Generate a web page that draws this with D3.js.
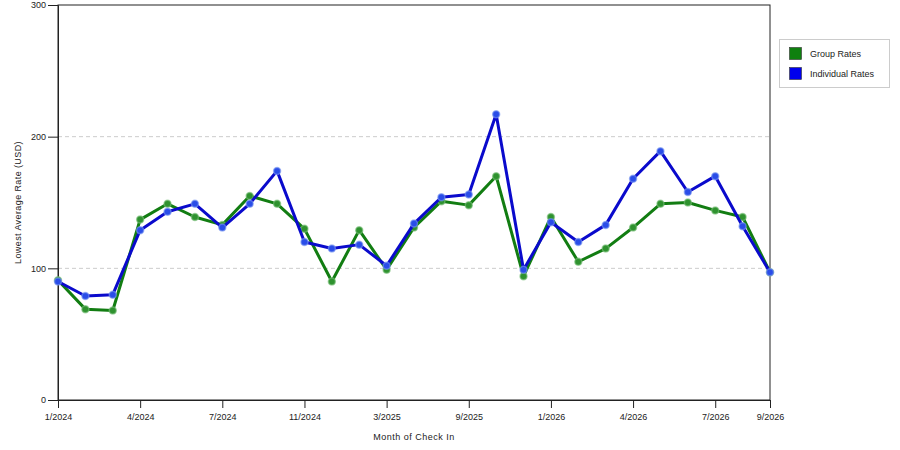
<html>
<head>
<script src="https://d3js.org/d3.v7.min.js"></script>
<style>
  body { margin: 0; background: #fff; }
  text { font-family: "Liberation Sans", Arial, sans-serif; fill: #222; }
</style>
</head>
<body>
<svg id="chart" width="900" height="450"></svg>
<script>
// months shown on the x axis (categorical, not evenly spaced in time)
const months = ["1/2024","2/2024","3/2024","4/2024","5/2024","6/2024","7/2024","8/2024","10/2024",
  "11/2024","12/2024","2/2025","3/2025","5/2025","7/2025","9/2025","10/2025","11/2025",
  "1/2026","2/2026","3/2026","4/2026","5/2026","6/2026","7/2026","8/2026","9/2026"];
const tickLabels = ["1/2024","4/2024","7/2024","11/2024","3/2025","9/2025","1/2026","4/2026","7/2026","9/2026"];
const yTicks = [0, 100, 200, 300];

const groupRates = [91, 69, 68, 137, 149, 139, 133, 155, 149, 130, 90, 129, 99, 131, 151, 148,
  170, 94, 139, 105, 115, 131, 149, 150, 144, 139, 97];
const individualRates = [90, 79, 80, 129, 143, 149, 131, 149, 174, 120, 115, 118, 102, 134, 154, 156,
  217, 99, 135, 120, 133, 168, 189, 158, 170, 132, 97];

const seriesNames = ["Group Rates", "Individual Rates"];

const svg = d3.select("#chart");
const plotL = 58, plotR = 770, plotT = 5, plotB = 400;

const x = d3.scalePoint().domain(months).range([plotL, plotR]);
const y = d3.scaleLinear().domain([0, 300]).range([plotB, plotT]);

// frame
svg.append("rect")
  .attr("x", plotL).attr("y", plotT)
  .attr("width", plotR - plotL).attr("height", plotB - plotT)
  .attr("fill", "none").attr("stroke", "#222").attr("stroke-width", 1);

// dashed gridlines
svg.append("g")
  .selectAll("line")
  .data([100, 200])
  .enter().append("line")
  .attr("x1", plotL).attr("x2", plotR)
  .attr("y1", d => y(d)).attr("y2", d => y(d))
  .attr("stroke", "#ccc").attr("stroke-dasharray", "4,3");

// y axis
const yAxis = svg.append("g")
  .attr("transform", "translate(" + plotL + ",0)")
  .call(d3.axisLeft(y).tickValues(yTicks).tickSize(10).tickPadding(2));
yAxis.select(".domain").attr("stroke", "#222");
yAxis.selectAll(".tick line").attr("stroke", "#222");
yAxis.selectAll("text").attr("font-size", 9).attr("font-family", "Liberation Sans, Arial, sans-serif").attr("fill", "#222");

// x axis
const xAxis = svg.append("g")
  .attr("transform", "translate(0," + plotB + ")")
  .call(d3.axisBottom(x).tickValues(tickLabels).tickSize(8).tickPadding(6));
xAxis.select(".domain").attr("stroke", "#222");
xAxis.selectAll(".tick line").attr("stroke", "#222");
xAxis.selectAll("text").attr("font-size", 9).attr("font-family", "Liberation Sans, Arial, sans-serif").attr("fill", "#222");

// axis titles
svg.append("text")
  .attr("x", (plotL + plotR) / 2).attr("y", 440)
  .attr("text-anchor", "middle").attr("font-size", 9)
  .attr("letter-spacing", 0.5)
  .text("Month of Check In");

svg.append("text")
  .attr("transform", "translate(21," + ((plotT + plotB) / 2) + ") rotate(-90)")
  .attr("text-anchor", "middle").attr("font-size", 9)
  .attr("letter-spacing", 0.4)
  .text("Lowest Average Rate (USD)");

// series
const color = d3.scaleOrdinal().domain(seriesNames).range(["#127d12", "#0a0acc"]);
const marker = d3.scaleOrdinal().domain(seriesNames).range(["#2f922f", "#2a4de8"]);
const halo = d3.scaleOrdinal().domain(seriesNames).range(["rgba(120,190,120,0.6)", "rgba(120,150,240,0.6)"]);

const series = [
  { name: seriesNames[0], values: groupRates },
  { name: seriesNames[1], values: individualRates }
];

const line = d3.line()
  .x((d, i) => x(months[i]))
  .y(d => y(d));

series.forEach(function(s) {
  svg.append("path")
    .datum(s.values)
    .attr("fill", "none")
    .attr("stroke", color(s.name))
    .attr("stroke-width", 3)
    .attr("stroke-linejoin", "round")
    .attr("d", line);

  svg.append("g")
    .selectAll("circle")
    .data(s.values)
    .enter().append("circle")
    .attr("cx", (d, i) => x(months[i]))
    .attr("cy", d => y(d))
    .attr("r", 3.5)
    .attr("fill", marker(s.name))
    .attr("stroke", halo(s.name))
    .attr("stroke-width", 1.5);
});

// legend
svg.append("rect")
  .attr("x", 779.5).attr("y", 39.5)
  .attr("width", 110).attr("height", 48)
  .attr("fill", "#fff").attr("stroke", "#ccc");

const legend = svg.selectAll(".legend")
  .data(seriesNames)
  .enter().append("g")
  .attr("class", "legend")
  .attr("transform", (d, i) => "translate(0," + i * 20 + ")");

legend.append("rect")
  .attr("x", 789.5).attr("y", 47.5)
  .attr("width", 12).attr("height", 12)
  .attr("fill", d => d === seriesNames[0] ? "#0f800f" : "#0000ee")
  .attr("stroke", "#333").attr("stroke-width", 0.6);

legend.append("text")
  .attr("x", 810).attr("y", 57)
  .attr("font-size", 9)
  .text(d => d);
</script>
</body>
</html>
